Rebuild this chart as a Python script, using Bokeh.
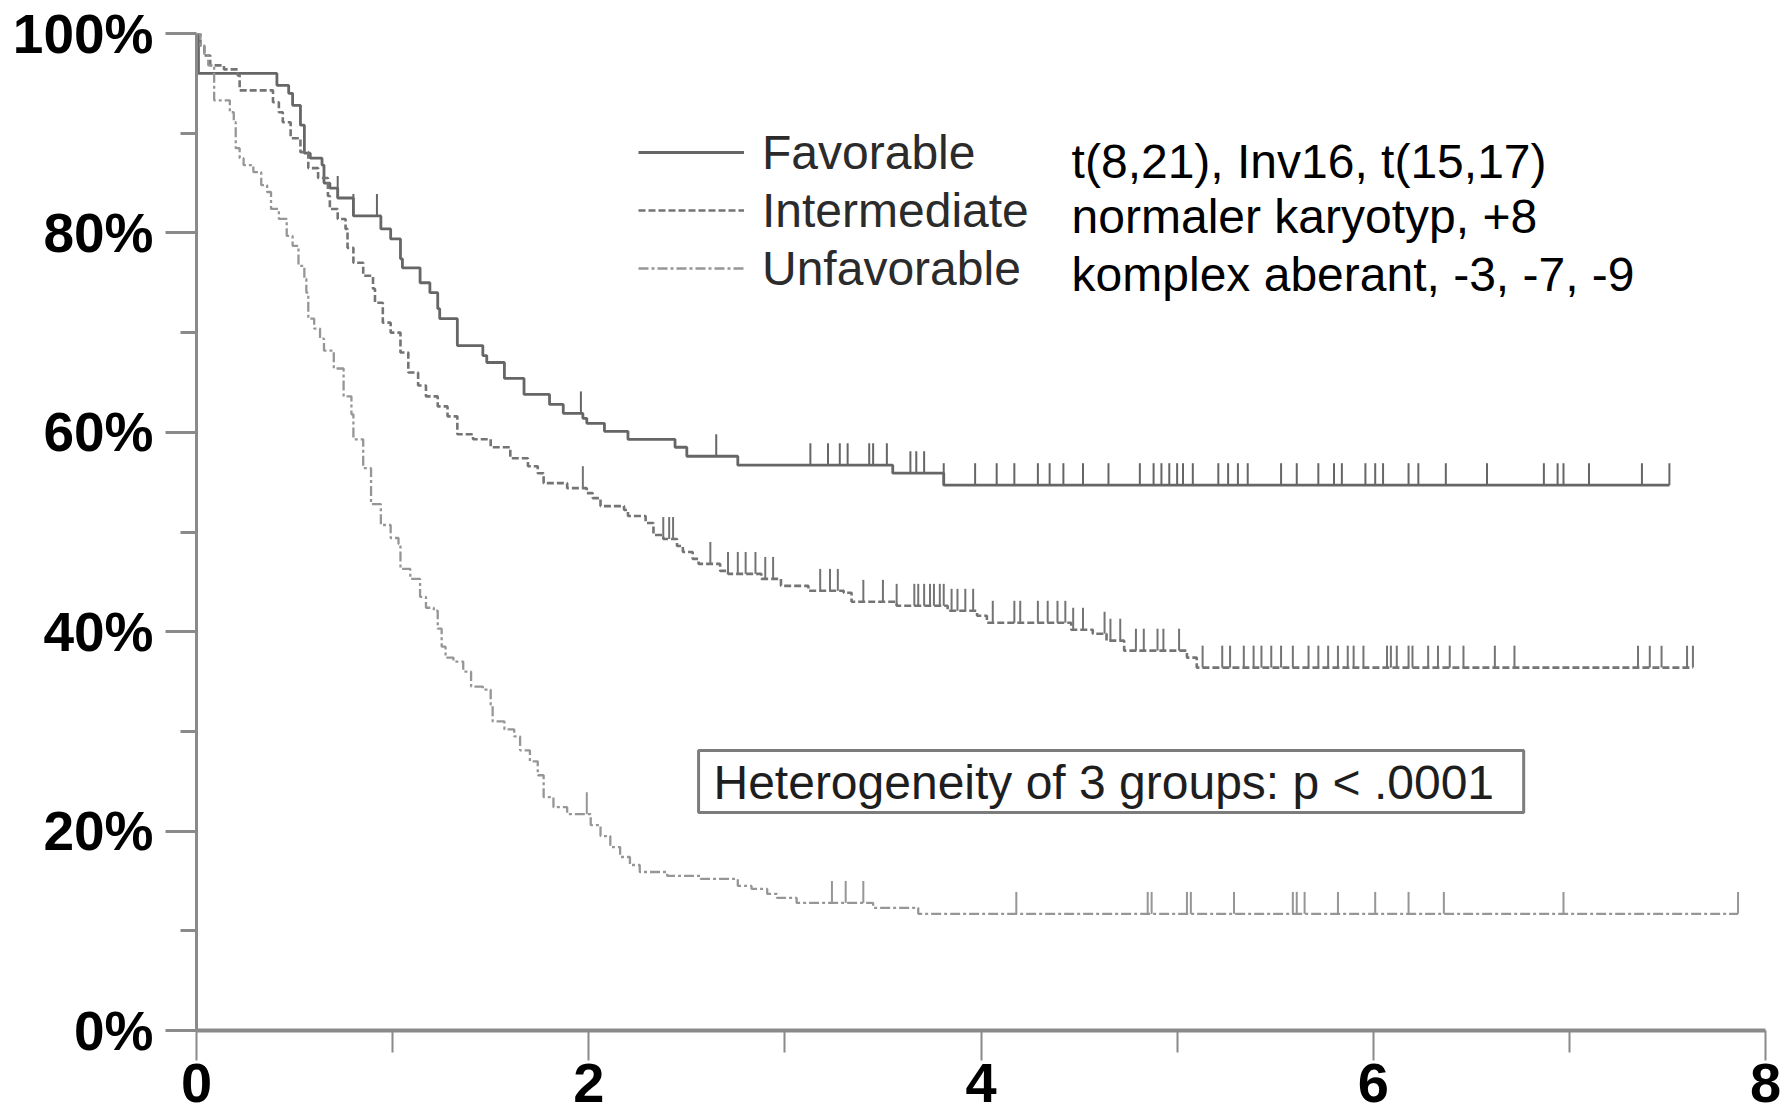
import numpy as np
from bokeh.plotting import figure
from bokeh.models import (Range1d, FixedTicker, Legend, LegendItem, Label, BoxAnnotation)
from bokeh.embed import file_html
from bokeh.resources import INLINE
from bokeh.core.properties import value

# ---------------- data ----------------
# Kaplan-Meier steps: time in years, survival in percent (value after each time)
fav_t = [0.00, 0.01, 0.41, 0.47, 0.49, 0.53, 0.55, 0.58, 0.64, 0.65, 0.68, 0.72, 0.80, 0.94, 0.99,
         1.04, 1.05, 1.14, 1.19, 1.23, 1.24, 1.33, 1.46, 1.48, 1.57, 1.67, 1.80, 1.87, 1.97, 1.99,
         2.08, 2.20, 2.44, 2.50, 2.76, 3.55, 3.81, 7.51]
fav_s = [100, 96.0, 94.8, 94.0, 92.8, 90.8, 88.0, 87.5, 86.8, 85.0, 84.5, 83.5, 81.7, 80.4, 79.4,
         77.4, 76.5, 75.0, 74.0, 72.4, 71.4, 68.7, 67.7, 67.0, 65.4, 63.8, 62.8, 61.9, 61.4, 60.9,
         60.1, 59.3, 58.5, 57.6, 56.7, 55.9, 54.7, 54.7]
fav_c = [0.72, 0.80, 0.92, 1.96, 2.65, 3.13, 3.22, 3.28, 3.32, 3.43, 3.45, 3.52, 3.64, 3.67, 3.71,
         3.81, 3.97, 4.08, 4.17, 4.29, 4.35, 4.42, 4.52, 4.65, 4.81, 4.88, 4.92, 4.96, 5.00, 5.03,
         5.08, 5.21, 5.26, 5.31, 5.36, 5.53, 5.61, 5.72, 5.80, 5.84, 5.96, 6.01, 6.05, 6.18, 6.23,
         6.37, 6.58, 6.87, 6.94, 6.97, 7.10, 7.37, 7.51]

int_t = [0.00, 0.02, 0.04, 0.07, 0.14, 0.21, 0.22, 0.39, 0.42, 0.44, 0.48, 0.53, 0.57, 0.62, 0.67,
         0.68, 0.72, 0.76, 0.77, 0.80, 0.85, 0.90, 0.91, 0.95, 0.99, 1.04, 1.08, 1.13, 1.17, 1.23,
         1.28, 1.33, 1.41, 1.50, 1.60, 1.69, 1.74, 1.77, 1.89, 1.99, 2.02, 2.06, 2.18, 2.20, 2.29,
         2.33, 2.38, 2.45, 2.48, 2.53, 2.56, 2.67, 2.71, 2.88, 2.98, 3.12, 3.30, 3.34, 3.57, 3.83,
         3.98, 4.03, 4.46, 4.57, 4.64, 4.73, 5.05, 5.10, 7.63]
int_s = [100, 98.8, 97.8, 96.8, 96.4, 95.8, 94.3, 93.1, 92.1, 91.1, 89.5, 88.1, 86.5, 85.5, 83.7,
         82.4, 81.4, 80.4, 78.5, 77.0, 75.7, 74.4, 73.0, 71.0, 70.0, 68.0, 66.0, 64.7, 63.6, 62.6,
         61.6, 59.8, 59.3, 58.5, 57.4, 56.6, 55.9, 54.9, 54.4, 53.9, 53.4, 52.6, 52.2, 51.6, 50.9,
         49.7, 49.3, 48.6, 48.0, 47.3, 46.8, 46.1, 45.8, 45.3, 44.6, 44.1, 43.9, 43.0, 42.6, 42.1,
         41.6, 40.9, 40.2, 39.8, 39.1, 38.1, 37.4, 36.4, 36.4]
int_c = [1.97, 2.38, 2.41, 2.43, 2.62, 2.71, 2.76, 2.80, 2.85, 2.90, 2.94, 3.18, 3.23, 3.27, 3.40,
         3.50, 3.57, 3.66, 3.68, 3.71, 3.74, 3.76, 3.79, 3.81, 3.85, 3.88, 3.92, 3.96, 4.06, 4.17,
         4.20, 4.29, 4.34, 4.39, 4.43, 4.47, 4.52, 4.63, 4.66, 4.71, 4.79, 4.83, 4.90, 4.93, 5.01,
         5.13, 5.23, 5.27, 5.34, 5.39, 5.43, 5.48, 5.53, 5.59, 5.67, 5.72, 5.77, 5.82, 5.87, 5.90,
         5.95, 6.07, 6.09, 6.12, 6.18, 6.20, 6.28, 6.33, 6.39, 6.46, 6.62, 6.72, 7.35, 7.41, 7.47,
         7.60, 7.63]

unf_t = [0.00, 0.02, 0.04, 0.06, 0.09, 0.17, 0.19, 0.20, 0.22, 0.24, 0.29, 0.33, 0.36, 0.38, 0.42,
         0.46, 0.49, 0.52, 0.55, 0.56, 0.57, 0.60, 0.63, 0.65, 0.70, 0.75, 0.79, 0.80, 0.85, 0.89,
         0.94, 0.99, 1.03, 1.04, 1.09, 1.14, 1.17, 1.21, 1.23, 1.25, 1.27, 1.31, 1.36, 1.40, 1.46,
         1.50, 1.51, 1.57, 1.62, 1.65, 1.70, 1.74, 1.77, 1.82, 1.89, 2.01, 2.06, 2.11, 2.16, 2.21,
         2.26, 2.40, 2.57, 2.76, 2.83, 2.91, 2.96, 3.06, 3.45, 3.68, 7.86]
unf_s = [100, 98.8, 97.8, 96.8, 93.3, 92.1, 91.1, 88.5, 87.5, 86.8, 86.1, 84.8, 84.1, 82.4, 81.4,
         79.7, 78.7, 76.7, 75.4, 74.0, 71.4, 70.4, 69.4, 68.2, 66.4, 63.6, 61.8, 59.3, 56.4, 52.8,
         50.7, 49.4, 48.8, 46.3, 45.3, 43.5, 42.4, 42.1, 40.3, 38.5, 37.4, 37.0, 36.0, 34.5, 34.2,
         32.7, 31.0, 30.2, 29.5, 28.1, 27.0, 25.6, 23.4, 22.4, 21.7, 20.6, 19.5, 18.4, 17.4, 16.6,
         15.9, 15.5, 15.2, 14.5, 14.2, 13.7, 13.3, 12.8, 12.3, 11.7, 11.7]
unf_c = [1.99, 3.24, 3.31, 3.40, 4.18, 4.85, 4.87, 5.05, 5.07, 5.29, 5.59, 5.61, 5.65, 5.82, 6.01,
         6.18, 6.36, 6.97, 7.86]

group_names = ["Favorable", "Intermediate", "Unfavorable"]
group_desc = ["t(8,21), Inv16, t(15,17)", "normaler karyotyp, +8", "komplex aberant, -3, -7, -9"]
stat_text = "Heterogeneity of 3 groups: p < .0001"

x_ticks = [0, 2, 4, 6, 8]
x_minor = [1, 3, 5, 7]
x_labels = ["0", "2", "4", "6", "8"]
y_ticks = [0, 20, 40, 60, 80, 100]
y_minor = [10, 30, 50, 70, 90]
y_labels = ["0%", "20%", "40%", "60%", "80%", "100%"]

# ---------------- figure ----------------
FONT = "Liberation Sans"
AXIS_GRAY = "#8a8a8a"

p = figure(width=1786, height=1118, output_backend="svg", toolbar_location=None,
           x_range=Range1d(0, 8), y_range=Range1d(0, 100),
           min_border_left=196, min_border_right=21, min_border_top=33, min_border_bottom=88)
p.outline_line_color = None
p.grid.visible = False
p.background_fill_color = "white"
p.border_fill_color = "white"

# y axis
yax = p.yaxis[0]
yax.ticker = FixedTicker(ticks=y_ticks, minor_ticks=y_minor)
yax.major_label_overrides = dict(zip(y_ticks, y_labels))
yax.axis_line_color = AXIS_GRAY
yax.axis_line_width = 3
yax.major_tick_line_color = AXIS_GRAY
yax.major_tick_line_width = 3
yax.minor_tick_line_color = AXIS_GRAY
yax.minor_tick_line_width = 3
yax.major_tick_in = 0
yax.major_tick_out = 31
yax.minor_tick_in = 0
yax.minor_tick_out = 16
yax.major_label_standoff = 12
yax.major_label_text_font = FONT
yax.major_label_text_font_size = "55px"
yax.major_label_text_font_style = "bold"
yax.major_label_text_color = "black"

# x axis
xax = p.xaxis[0]
xax.ticker = FixedTicker(ticks=x_ticks, minor_ticks=x_minor)
xax.major_label_overrides = dict(zip(x_ticks, x_labels))
xax.major_label_text_font = FONT
xax.major_label_text_font_size = "56px"
xax.major_label_text_font_style = "bold"
xax.major_label_text_color = "black"
xax.major_label_standoff = 3
xax.axis_line_color = AXIS_GRAY
xax.axis_line_width = 4
xax.major_tick_line_color = AXIS_GRAY
xax.major_tick_line_width = 2
xax.minor_tick_line_color = AXIS_GRAY
xax.minor_tick_line_width = 2
xax.major_tick_in = 0
xax.major_tick_out = 30
xax.minor_tick_in = 0
xax.minor_tick_out = 22

# ---------------- curves ----------------
def step_value(ts, ss, t):
    i = int(np.searchsorted(np.asarray(ts), t, side="right")) - 1
    return ss[max(i, 0)]

TICK_H = 2.2
series = [
    (fav_t, fav_s, fav_c, "#666666", "solid", 2.8),
    (int_t, int_s, int_c, "#747474", "7 3", 2.6),
    (unf_t, unf_s, unf_c, "#969696", "10 3 3 3", 2.3),
]
items = []
for name, (ts, ss, cs, col, dash, w) in zip(group_names, series):
    r = p.step(x=ts, y=ss, mode="after", line_color=col, line_width=w, line_dash=dash)
    cy = [step_value(ts, ss, c) for c in cs]
    p.segment(x0=cs, y0=cy, x1=cs, y1=[v + TICK_H for v in cy], line_color=col, line_width=2)
    items.append(LegendItem(label=value(name), renderers=[r]))

legend = Legend(items=items, location=(442, 733), orientation="vertical",
                glyph_width=106, glyph_height=58, label_height=58, label_standoff=18,
                spacing=0, padding=0, margin=0,
                border_line_color=None, background_fill_alpha=0,
                label_text_font=FONT, label_text_font_size="48px", label_text_color="#2b2b2b")
p.add_layout(legend)

# descriptions to the right of the legend
desc_y = [87.2, 81.66, 75.8]
for txt, yy in zip(group_desc, desc_y):
    p.add_layout(Label(x=4.462, y=yy, text=txt, text_font=FONT, text_font_size="48px",
                       text_baseline="alphabetic", text_align="left", text_color="black"))

# heterogeneity box
p.add_layout(BoxAnnotation(left=2.56, right=6.767, bottom=21.87, top=28.08,
                           fill_alpha=0, line_color="#7c7c7c", line_alpha=1.0, line_width=3))
p.add_layout(Label(x=2.636, y=24.90, text=stat_text, text_font=FONT, text_font_size="48px",
                   text_baseline="alphabetic", text_align="left", text_color="#1e1e1e"))

open("out.html", "w").write(file_html(p, INLINE))
